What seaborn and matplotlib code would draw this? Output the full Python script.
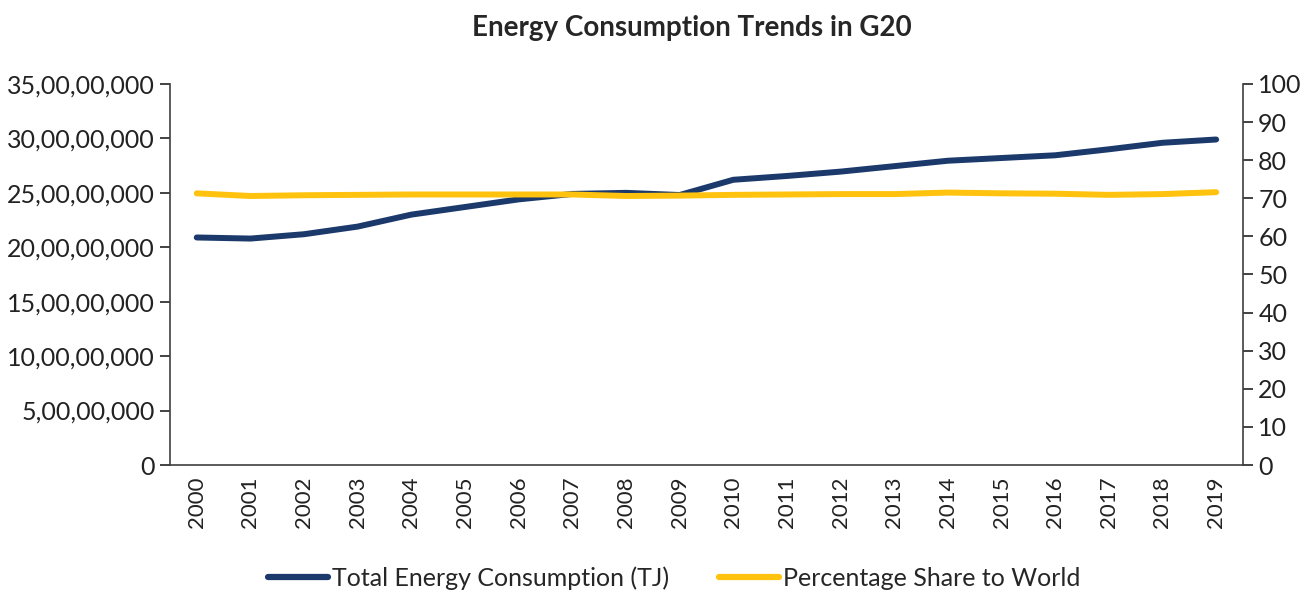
import numpy as np
import pandas as pd
import matplotlib
matplotlib.use("Agg")
import matplotlib.pyplot as plt
from matplotlib.ticker import FuncFormatter, FixedLocator
from matplotlib.lines import Line2D
import seaborn as sns

# values
years = [str(y) for y in range(2000, 2020)]
total_tj = [2.09e8, 2.08e8, 2.12e8, 2.19e8, 2.30e8, 2.37e8, 2.44e8, 2.49e8, 2.50e8, 2.48e8,
            2.62e8, 2.655e8, 2.695e8, 2.745e8, 2.795e8, 2.82e8, 2.845e8, 2.90e8, 2.96e8, 2.99e8]
share_pct = [71.3, 70.6, 70.8, 70.9, 71.0, 71.0, 71.0, 71.0, 70.6, 70.7,
             70.9, 71.0, 71.1, 71.1, 71.5, 71.3, 71.2, 70.9, 71.1, 71.6]

df = pd.DataFrame({"idx": np.arange(len(years)), "year": years,
                   "total": total_tj, "share": share_pct})

navy = "#1B3A6B"
yellow = "#FFC20E"

sns.set_style("white")
plt.rcParams["font.family"] = ["Lato", "DejaVu Sans"]


def indian_fmt(v, pos):
    n = int(round(v))
    s = str(n)
    if len(s) <= 3:
        return s
    last3 = s[-3:]
    rest = s[:-3]
    groups = []
    while len(rest) > 2:
        groups.insert(0, rest[-2:])
        rest = rest[:-2]
    if rest:
        groups.insert(0, rest)
    return ",".join(groups + [last3])


fig = plt.figure(figsize=(13.07, 5.99), dpi=100)
ax = fig.add_axes([0.130, 0.2237, 0.821, 0.6361])
ax2 = ax.twinx()

sns.lineplot(data=df, x="idx", y="total", ax=ax, color=navy, linewidth=4.3,
             solid_capstyle="round")
sns.lineplot(data=df, x="idx", y="share", ax=ax2, color=yellow, linewidth=4.3,
             solid_capstyle="round")

ax.set_xlim(-0.5, len(years) - 0.5)
ax.set_ylim(0, 3.5e8)
ax2.set_ylim(0, 100)
ax.set_yticks(np.arange(0, 3.5e8 + 1, 5e7))
ax.yaxis.set_major_formatter(FuncFormatter(indian_fmt))
ax2.set_yticks(np.arange(0, 101, 10))

ax.set_xticks(df["idx"])
ax.set_xticklabels(years, rotation=90)
ax.xaxis.set_minor_locator(FixedLocator(np.arange(-0.5, len(years), 1)))
ax.tick_params(axis="x", which="major", length=0, pad=8, labelsize=16, colors="#222222")
ax.tick_params(axis="x", which="minor", length=7, width=1.2, direction="out", color="#404040")
ax.tick_params(axis="y", length=7, width=1.2, direction="out", labelsize=18,
               colors="#222222", pad=4)
ax2.tick_params(axis="y", length=7, width=1.2, direction="out", labelsize=18,
                colors="#222222", pad=4)

ax.set_xlabel("")
ax.set_ylabel("")
ax2.set_ylabel("")

for a in (ax, ax2):
    a.spines["top"].set_visible(False)
    for side in ("left", "right", "bottom"):
        a.spines[side].set_color("#404040")
        a.spines[side].set_linewidth(1.2)
ax.spines["right"].set_visible(False)
ax2.spines["left"].set_visible(False)
ax2.spines["bottom"].set_visible(False)

fig.suptitle("Energy Consumption Trends in G20", fontsize=20, fontweight="bold",
             y=0.975, x=0.529)

handles = [Line2D([0], [0], color=navy, linewidth=4.5, solid_capstyle="round"),
           Line2D([0], [0], color=yellow, linewidth=4.5, solid_capstyle="round")]
fig.legend(handles, ["Total Energy Consumption (TJ)", "Percentage Share to World"],
           loc="lower center", bbox_to_anchor=(0.516, -0.022), ncol=2, frameon=False,
           fontsize=18, handlelength=2.4, handletextpad=0.15, columnspacing=2.0)

fig.savefig("out.png", dpi=100)
